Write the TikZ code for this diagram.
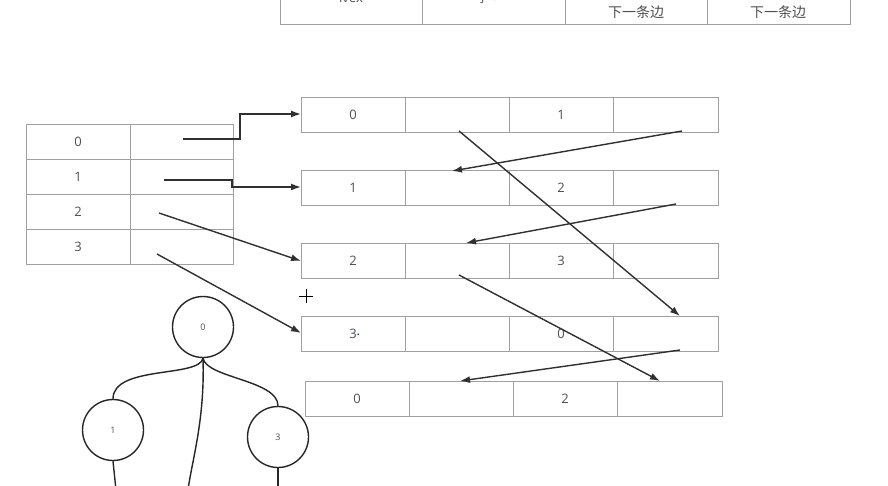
\documentclass[tikz,border=0pt]{standalone}
\usepackage{fontspec}
\setmainfont{Open Sans}
\newfontfamily\cjk{Noto Sans CJK SC}
\usetikzlibrary{arrows.meta,calc}
\definecolor{boxgray}{HTML}{A0A0A0}
\definecolor{txtgray}{HTML}{505050}
\definecolor{linedark}{HTML}{303030}
\begin{document}
\begin{tikzpicture}[x=1pt,y=-1pt,
  cellbox/.style={draw=boxgray,line width=0.9pt,fill=white},
  celltxt/.style={text=txtgray,font=\fontsize{13}{15}\selectfont,inner sep=0pt},
  ptr/.style={draw=linedark,line width=1.4pt,-{Latex[length=10pt,width=7pt]}},
  treecirc/.style={draw=black!85,line width=1.4pt,circle,minimum size=61pt,inner sep=0pt,text=txtgray,font=\fontsize{9}{10}\selectfont},
  treeline/.style={draw=black!85,line width=1.4pt}]
\useasboundingbox (0,0) rectangle (888,486);
\fill[white] (0,0) rectangle (888,486);
% top table (cut off)
\foreach \a/\b in {280/422,422/565,565/707,707/850}{
  \draw[cellbox] (\a,-20) rectangle (\b,24);}
\node[celltxt] (tiv) at (351,-2.5) {ivex};
\node[celltxt] (tjv) at (493,-2.5) {jvex};
\node[celltxt,font=\cjk\fontsize{14}{16}\selectfont] (tn1) at (636,12) {下一条边};
\node[celltxt,font=\cjk\fontsize{14}{16}\selectfont] (tn2) at (778,12) {下一条边};
% left table
\foreach \r/\t in {0/0,1/1,2/2,3/3}{
  \draw[cellbox] (26,124+35*\r) rectangle (130,159+35*\r);
  \draw[cellbox] (130,124+35*\r) rectangle (233,159+35*\r);
  \node[celltxt] (L\r) at (78,141.5+35*\r) {\t};}
% edge rows
\newcommand{\edgerow}[6]{%
  \draw[cellbox] (#2,#3) rectangle ++(104.25,35);
  \draw[cellbox] (#2+104.25,#3) rectangle ++(104.25,35);
  \draw[cellbox] (#2+208.5,#3) rectangle ++(104.25,35);
  \draw[cellbox] (#2+312.75,#3) rectangle ++(104.25,35);
  \node[celltxt] (#1a) at (#2+52,#3+17.5) {#4};
  \node[celltxt] (#1b) at (#2+260,#3+17.5) {#5};
  \coordinate (#1w) at (#2,#3+17.5);}
\edgerow{R0}{301}{97}{0}{1}{}
\edgerow{R1}{301}{170}{1}{2}{}
\edgerow{R2}{301}{243}{2}{3}{}
\edgerow{R3}{301}{316}{\hphantom{.}3\textcolor{blue}{\raisebox{3pt}{.}}}{0}{}
\edgerow{R4}{305}{381}{0}{2}{}
% pointer coordinates
\coordinate (s0) at (183,139);
\coordinate (s1) at (164,180);
\coordinate (s2) at (159,213);
\coordinate (s3) at (157,254);
\coordinate (e0) at (301,114);
\coordinate (e1) at (301,187);
\coordinate (e2) at (301,261);
\coordinate (e3) at (301,333);
\draw[ptr] (s0) -- (240,139) -- (240,114) -- (e0);
\draw[ptr] (s1) -- (232,180) -- (232,187) -- (e1);
\draw[ptr] (s2) -- (e2);
\draw[ptr] (s3) -- (e3);
% cross links
\coordinate (a1) at (459,131); \coordinate (a2) at (680,316);
\coordinate (b1) at (682,131); \coordinate (b2) at (452,171);
\coordinate (c1) at (676,204); \coordinate (c2) at (466,243);
\coordinate (d1) at (459,275); \coordinate (d2) at (660,381);
\coordinate (f1) at (680,350); \coordinate (f2) at (460,381);
\draw[ptr] (a1) -- (a2);
\draw[ptr] (b1) -- (b2);
\draw[ptr] (c1) -- (c2);
\draw[ptr] (d1) -- (d2);
\draw[ptr] (f1) -- (f2);
% plus mark
\coordinate (pl) at (306,296);
\draw[black,line width=1pt] ($(pl)+(-7,0)$) -- ($(pl)+(7,0)$);
\draw[black,line width=1pt] ($(pl)+(0,-7)$) -- ($(pl)+(0,7)$);
% tree
\node[treecirc] (n0) at (203,327) {0};
\node[treecirc] (n1) at (113,430) {1};
\node[treecirc] (n3) at (278,437) {3};
\coordinate (j) at (203,358);
\draw[treeline] (j) .. controls (200,378) and (113,365) .. (n1.north);
\draw[treeline] (j) .. controls (206,378) and (278,380) .. (n3.north);
\draw[treeline] (j) .. controls (205,420) and (192,460) .. (188,490);
\draw[treeline] (n1.south) -- (116,490);
\draw[treeline] (n3.south) -- (278,490);
\end{tikzpicture}
\end{document}
